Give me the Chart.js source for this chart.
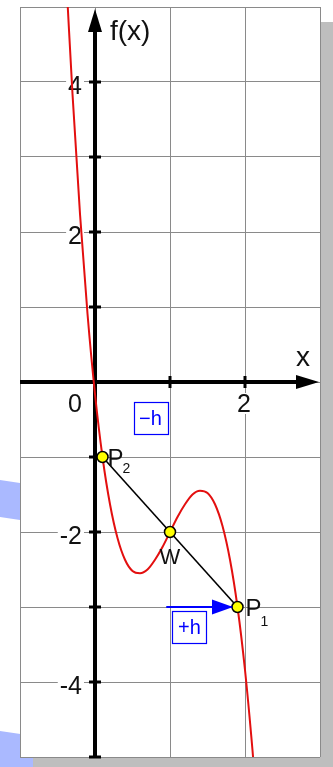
<!DOCTYPE html>
<html>
<head>
<meta charset="utf-8">
<script src="https://cdn.jsdelivr.net/npm/chart.js@4"></script>
<style>
  html, body { margin: 0; padding: 0; background: #fff; }
  canvas { display: block; }
</style>
</head>
<body>
<canvas id="plot" width="333" height="767"></canvas>
<script>
const curveX = [-0.37, -0.3, -0.2, -0.1, 0, 0.1, 0.2, 0.3, 0.4, 0.5, 0.6, 0.7, 0.8, 0.9, 1.0,
                1.1, 1.2, 1.3, 1.4, 1.5, 1.6, 1.7, 1.8, 1.9, 2.0, 2.1, 2.15];
const curveY = [5.13, 3.84, 2.24, 0.91, -0.16, -1.0, -1.63, -2.08, -2.37, -2.52, -2.55, -2.50, -2.37, -2.20, -2.0,
                -1.80, -1.63, -1.50, -1.45, -1.48, -1.63, -1.92, -2.37, -3.0, -3.84, -4.91, -5.54];

// P2, W, P1
const pointX = [0.1, 1, 1.9];
const pointY = [-1, -2, -3];
const pointName = ['P', 'W', 'P'];
const pointSub = ['2', '', '1'];

// +h arrow
const arrowX = [0.95, 1.84];
const arrowY = [-3, -3];

// boxed step labels
const stepText = ['\u2212h', '+h'];
const stepX = [0.74, 1.26];
const stepY = [-0.48, -3.27];

// axis numbers
const yLabelValues = [4, 2, -2, -4];
const xLabelValues = [0, 2];

const FONT = 'Arial, "Liberation Sans", sans-serif';

const toXY = (xs, ys) => xs.map((x, i) => ({ x: x, y: ys[i] }));

const backdrop = {
  id: 'backdrop',
  beforeDraw(chart) {
    const c = chart.ctx;
    const a = chart.chartArea;
    c.save();
    c.fillStyle = '#fff';
    c.fillRect(0, 0, chart.width, chart.height);
    // pale blue shapes along the left edge
    c.fillStyle = '#aab9ff';
    c.beginPath();
    c.moveTo(0, 480); c.lineTo(20, 483); c.lineTo(20, 520); c.lineTo(0, 517);
    c.closePath(); c.fill();
    c.beginPath();
    c.moveTo(0, 731); c.lineTo(34, 736); c.lineTo(34, 767); c.lineTo(0, 767);
    c.closePath(); c.fill();
    // drop shadow
    c.fillStyle = '#bebebe';
    c.fillRect(a.right, 22, chart.width - a.right, chart.height - 22);
    c.fillRect(33, a.bottom, chart.width - 33, chart.height - a.bottom);
    c.fillStyle = '#fff';
    c.fillRect(a.left, a.top, a.right - a.left, a.bottom - a.top);
    c.restore();
  }
};

function labelBox(c, text, x, y, align) {
  const w = c.measureText(text).width;
  const left = align === 'right' ? x - w : (align === 'center' ? x - w / 2 : x);
  c.fillStyle = '#fff';
  c.fillRect(left - 2, y - 19, w + 4, 21);
  c.fillStyle = '#111';
  c.textAlign = align;
  c.fillText(text, x, y);
}

const axes = {
  id: 'axes',
  beforeDatasetsDraw(chart) {
    const c = chart.ctx;
    const a = chart.chartArea;
    const sx = chart.scales.x, sy = chart.scales.y;
    const x0 = sx.getPixelForValue(0), y0 = sy.getPixelForValue(0);
    c.save();
    c.strokeStyle = '#000';
    c.fillStyle = '#000';
    c.lineWidth = 4;
    // y axis
    c.beginPath();
    c.moveTo(x0, a.bottom); c.lineTo(x0, a.top + 20);
    c.stroke();
    c.beginPath();
    c.moveTo(x0, a.top + 2); c.lineTo(x0 - 7, a.top + 25); c.lineTo(x0 + 7, a.top + 25);
    c.closePath(); c.fill();
    // x axis
    c.beginPath();
    c.moveTo(a.left, y0); c.lineTo(a.right - 20, y0);
    c.stroke();
    c.beginPath();
    c.moveTo(a.right - 1, y0); c.lineTo(a.right - 24, y0 - 7); c.lineTo(a.right - 24, y0 + 7);
    c.closePath(); c.fill();
    // tick marks
    c.lineWidth = 3;
    for (let v = -5; v <= 4; v++) {
      if (v === 0) continue;
      const py = sy.getPixelForValue(v);
      c.beginPath(); c.moveTo(x0 - 6, py); c.lineTo(x0 + 6, py); c.stroke();
    }
    for (let v = 1; v <= 2; v++) {
      const px = sx.getPixelForValue(v);
      c.beginPath(); c.moveTo(px, y0 - 6); c.lineTo(px, y0 + 6); c.stroke();
    }
    // numbers
    c.font = '25px ' + FONT;
    c.textBaseline = 'alphabetic';
    yLabelValues.forEach(v => {
      labelBox(c, String(v).replace('-', '-'), x0 - 13, sy.getPixelForValue(v) + 12, 'right');
    });
    xLabelValues.forEach(v => {
      if (v === 0) labelBox(c, '0', x0 - 13, y0 + 30, 'right');
      else labelBox(c, String(v), sx.getPixelForValue(v) - 1, y0 + 30, 'center');
    });
    // axis names
    c.fillStyle = '#111';
    c.font = '28px ' + FONT;
    c.textAlign = 'left';
    c.fillText('f(x)', x0 + 15, a.top + 33);
    c.fillText('x', a.right - 24, y0 - 16);
    c.restore();
  }
};

const notes = {
  id: 'notes',
  afterDatasetsDraw(chart) {
    const c = chart.ctx;
    const sx = chart.scales.x, sy = chart.scales.y;
    c.save();
    // arrow head on +h
    const n = arrowX.length - 1;
    const tx = sx.getPixelForValue(arrowX[n]), ty = sy.getPixelForValue(arrowY[n]);
    c.fillStyle = '#0000ff';
    c.beginPath();
    c.moveTo(tx, ty); c.lineTo(tx - 21, ty - 7.5); c.lineTo(tx - 21, ty + 7.5);
    c.closePath(); c.fill();
    // boxed -h / +h
    c.font = '20px ' + FONT;
    c.textAlign = 'center';
    c.textBaseline = 'middle';
    c.strokeStyle = '#0000ff';
    c.lineWidth = 1.2;
    stepText.forEach((t, i) => {
      const px = sx.getPixelForValue(stepX[i]), py = sy.getPixelForValue(stepY[i]);
      c.strokeRect(Math.round(px - 17) + 0.5, Math.round(py - 16) + 0.5, 34, 32);
      c.fillStyle = '#0000ff';
      c.fillText(t, px, py + 1);
    });
    // point names
    c.fillStyle = '#111';
    c.textBaseline = 'alphabetic';
    pointName.forEach((name, i) => {
      const px = sx.getPixelForValue(pointX[i]), py = sy.getPixelForValue(pointY[i]);
      if (pointSub[i]) {
        c.font = '24px ' + FONT;
        c.textAlign = 'left';
        const dx = i === 0 ? 5 : 8;
        c.fillText(name, px + dx, py + 9);
        c.font = '14px ' + FONT;
        c.fillText(pointSub[i], px + dx + 15, py + (i === 0 ? 16 : 19));
      } else {
        c.font = '22px ' + FONT;
        c.textAlign = 'center';
        c.fillText(name, px, py + 32);
      }
    });
    c.restore();
  }
};

new Chart(document.getElementById('plot'), {
  type: 'scatter',
  data: {
    datasets: [
      {
        data: toXY(curveX, curveY),
        showLine: true,
        borderColor: '#e30f0f',
        borderWidth: 2,
        pointRadius: 0,
        cubicInterpolationMode: 'monotone',
        order: 4
      },
      {
        data: toXY([pointX[0], pointX[2]], [pointY[0], pointY[2]]),
        showLine: true,
        borderColor: '#000',
        borderWidth: 1.6,
        pointRadius: 0,
        order: 3
      },
      {
        data: toXY(arrowX, arrowY),
        showLine: true,
        borderColor: '#0000ff',
        borderWidth: 2,
        pointRadius: 0,
        order: 2
      },
      {
        data: toXY(pointX, pointY),
        backgroundColor: '#ffff00',
        borderColor: '#000',
        borderWidth: 1.5,
        pointRadius: 5.5,
        order: 1
      }
    ]
  },
  options: {
    responsive: false,
    animation: false,
    layout: { padding: { left: 20, top: 7, right: 13, bottom: 10 } },
    plugins: { legend: { display: false }, tooltip: { enabled: false } },
    scales: {
      x: {
        type: 'linear', min: -1, max: 3,
        ticks: { stepSize: 1, display: false },
        grid: { color: '#8a8a8a', lineWidth: 1, drawTicks: false },
        border: { display: false }
      },
      y: {
        type: 'linear', min: -5, max: 5,
        ticks: { stepSize: 1, display: false },
        grid: { color: '#8a8a8a', lineWidth: 1, drawTicks: false },
        border: { display: false }
      }
    }
  },
  plugins: [backdrop, axes, notes]
});
</script>
</body>
</html>
